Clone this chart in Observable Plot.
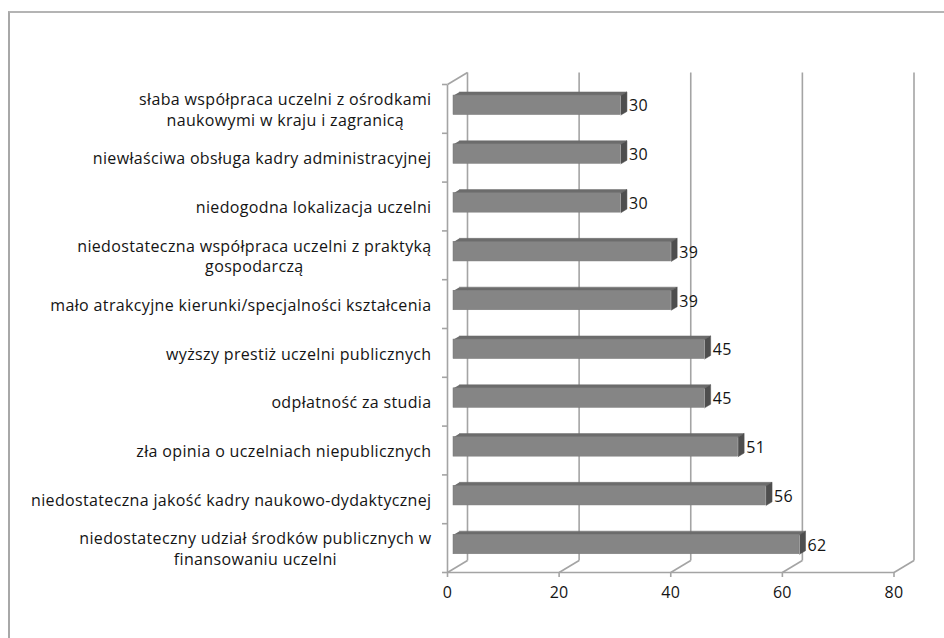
<!DOCTYPE html>
<html>
<head>
<meta charset="utf-8">
<script src="https://cdn.jsdelivr.net/npm/d3@7"></script>
<script src="https://cdn.jsdelivr.net/npm/@observablehq/plot@0.6"></script>
<style>
  html, body { margin: 0; padding: 0; background: #fff; }
  #wrap { position: relative; width: 944px; height: 638px; overflow: hidden; }
  #frame { position: absolute; left: 8px; top: 11px; width: 1000px; height: 1000px;
           border-left: 2px solid #a8a8a8; border-top: 2px solid #b4b4b4; }
  #chart { position: absolute; left: 0; top: 0; }
</style>
</head>
<body>
<div id="wrap"><div id="frame"></div><div id="chart"></div></div>
<script>
// Reasons (top to bottom) and their counts
const categories = [
  "słaba współpraca uczelni z ośrodkami\nnaukowymi w kraju i zagranicą",
  "niewłaściwa obsługa kadry administracyjnej",
  "niedogodna lokalizacja uczelni",
  "niedostateczna współpraca uczelni z praktyką\ngospodarczą",
  "mało atrakcyjne kierunki/specjalności kształcenia",
  "wyższy prestiż uczelni publicznych",
  "odpłatność za studia",
  "zła opinia o uczelniach niepublicznych",
  "niedostateczna jakość kadry naukowo-dydaktycznej",
  "niedostateczny udział środków publicznych w\nfinansowaniu uczelni"
];
const values = [30, 30, 30, 39, 39, 45, 45, 51, 56, 62];
const xTicks = [0, 20, 40, 60, 80];

// Layout
const W = 944, H = 638;
const mTop = 84, mBottom = 66, mLeft = 447, mRight = 50.5;
const n = categories.length;
const pxX = (W - mLeft - mRight) / 80;      // pixels per unit of value
const pxY = (H - mTop - mBottom) / n;       // pixels per category band
// Depth of the 3D box (pixels), expressed in data units
const DX = 20 / pxX, DY = -12 / pxY;
const D0 = 0.3, D1 = 0.6;                   // bar front / back depth
const HALF = 0.2;                           // half bar thickness (band units)
const FONT = "'Open Sans', Lato, sans-serif";
const FS = 16;
const LS = 0.35;                            // letter spacing, px
const INK = "#141414";

const sh = (x, y, d) => ({x: x + d * DX, y: y + d * DY});

// Faces of the bars as polygons
const rows = values.map((v, i) => ({i, v, c: categories[i]}));
const topFace = [], sideFace = [];
rows.forEach(({i, v}) => {
  const y0 = i + 0.5 - HALF, y1 = i + 0.5 + HALF;
  [sh(0, y0, D0), sh(v, y0, D0), sh(v, y0, D1), sh(0, y0, D1)]
    .forEach(p => topFace.push({k: i, ...p}));
  [sh(v, y0, D0), sh(v, y0, D1), sh(v, y1, D1), sh(v, y1, D0)]
    .forEach(p => sideFace.push({k: i, ...p}));
});

// Category labels: lines centred within a right-aligned block
const ctx = document.createElement("canvas").getContext("2d");
ctx.font = `${FS}px ${FONT}`;
const labels = rows.map(({i, c}) => {
  const w = d3.max(c.split("\n"), s => ctx.measureText(s).width + LS * s.length);
  return {i, c, x: -(16 + w / 2) / pxX};
});

const grid = "#a4a4a4";
const chart = Plot.plot({
  width: W, height: H,
  marginTop: mTop, marginBottom: mBottom, marginLeft: mLeft, marginRight: mRight,
  style: {fontFamily: FONT, fontSize: FS + "px", letterSpacing: LS + "px", color: INK,
          background: "transparent", overflow: "visible"},
  x: {domain: [0, 80]},
  y: {domain: [0, n], reverse: true},
  marks: [
    // back wall gridlines
    Plot.link(xTicks, {x1: t => t + DX, x2: t => t + DX, y1: DY, y2: n + DY, stroke: grid, strokeWidth: 1.6}),
    // floor diagonals
    Plot.link(xTicks, {x1: t => t, y1: n, x2: t => t + DX, y2: n + DY, stroke: grid, strokeWidth: 1.6}),
    // left wall front edge and its top diagonal
    Plot.link([0], {x1: 0, x2: 0, y1: 0, y2: n, stroke: grid, strokeWidth: 1.6}),
    Plot.link([0], {x1: 0, y1: 0, x2: DX, y2: DY, stroke: grid, strokeWidth: 1.6}),
    // floor front edge
    Plot.link([0], {x1: 0, x2: 80, y1: n, y2: n, stroke: grid, strokeWidth: 1.6}),
    // bars
    Plot.line(topFace, {x: "x", y: "y", z: "k", fill: "#6c6c6c", stroke: "#6c6c6c", strokeWidth: 0.5}),
    Plot.line(sideFace, {x: "x", y: "y", z: "k", fill: "#4e4e4e", stroke: "#4e4e4e", strokeWidth: 0.5}),
    Plot.rect(rows, {
      x1: d => D0 * DX, x2: d => d.v + D0 * DX,
      y1: d => d.i + 0.5 - HALF + D0 * DY, y2: d => d.i + 0.5 + HALF + D0 * DY,
      fill: "#858585", stroke: "#7a7a7a", strokeWidth: 0.5
    }),
    // value labels
    Plot.text(rows, {x: d => d.v + D1 * DX, y: d => d.i + 0.5 + D0 * DY, text: d => String(d.v),
      textAnchor: "start", dx: 2, dy: 1, fontSize: FS, fill: INK}),
    // axes
    Plot.axisX({ticks: xTicks, tickSize: 5, tickPadding: 9, stroke: grid, strokeWidth: 1.6,
      label: null, fontSize: FS, fill: INK}),
    Plot.axisY({ticks: d3.range(n + 1), tickFormat: () => "", tickSize: 5, stroke: grid,
      strokeWidth: 1.6, label: null}),
    Plot.text(labels, {x: "x", y: d => d.i + 0.5, text: "c", textAnchor: "middle",
      lineAnchor: "middle", lineHeight: 1.3, fontSize: FS, fill: INK})
  ]
});
document.getElementById("chart").append(chart);
</script>
</body>
</html>
